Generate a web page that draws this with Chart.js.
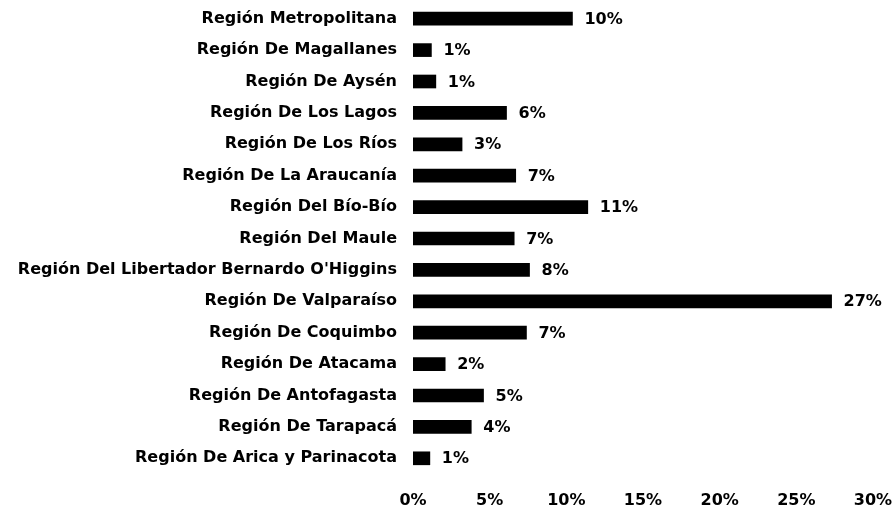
<!DOCTYPE html>
<html>
<head>
<meta charset="utf-8">
<script src="https://cdn.jsdelivr.net/npm/chart.js@4"></script>
<style>
  body { margin: 0; background: #fff; }
  canvas { display: block; }
</style>
</head>
<body>
<canvas id="regionChart" width="892" height="514"></canvas>
<script>
// regions, top to bottom
var regions = [
    'Región Metropolitana',
    'Región De Magallanes',
    'Región De Aysén',
    'Región De Los Lagos',
    'Región De Los Ríos',
    'Región De La Araucanía',
    'Región Del Bío-Bío',
    'Región Del Maule',
    "Región Del Libertador Bernardo O'Higgins",
    'Región De Valparaíso',
    'Región De Coquimbo',
    'Región De Atacama',
    'Región De Antofagasta',
    'Región De Tarapacá',
    'Región De Arica y Parinacota'
];
// share in percent
var shares = [10.4, 1.2, 1.49, 6.1, 3.2, 6.7, 11.4, 6.6, 7.6, 27.3, 7.4, 2.1, 4.6, 3.8, 1.1];
var axisTicks = [0, 5, 10, 15, 20, 25, 30];

var font = 'bold 16px "DejaVu Sans"';

// draws the "10%" labels right of each bar
var valueLabels = {
    id: 'valueLabels',
    afterDatasetsDraw: function (chart) {
        var ctx = chart.ctx;
        var meta = chart.getDatasetMeta(0);
        ctx.save();
        ctx.font = font;
        ctx.fillStyle = '#000';
        ctx.textAlign = 'left';
        ctx.textBaseline = 'middle';
        meta.data.forEach(function (bar, i) {
            ctx.fillText(Math.round(shares[i]) + '%', bar.x + 12, bar.y + 1);
        });
        ctx.restore();
    }
};

var ctx = document.getElementById('regionChart').getContext('2d');
var chart = new Chart(ctx, {
    type: 'bar',
    data: {
        labels: regions,
        datasets: [{
            data: shares,
            backgroundColor: '#000',
            barThickness: 13
        }]
    },
    options: {
        indexAxis: 'y',
        responsive: false,
        animation: false,
        layout: { autoPadding: false, padding: { left: 0, top: 3, bottom: 0, right: 19 } },
        plugins: {
            legend: { display: false },
            tooltip: { enabled: false }
        },
        scales: {
            x: {
                min: 0,
                max: 30,
                afterBuildTicks: function (axis) {
                    axis.ticks = axisTicks.map(function (v) { return { value: v }; });
                },
                afterFit: function (axis) {
                    axis.height = 40;
                    axis.paddingLeft = 0;
                    axis.paddingRight = 0;
                },
                grid: { display: false },
                border: { display: false },
                ticks: {
                    color: '#000',
                    font: { family: 'DejaVu Sans', size: 16, weight: 'bold' },
                    padding: 9,
                    maxRotation: 0,
                    callback: function (v) { return v + '%'; }
                }
            },
            y: {
                afterFit: function (axis) {
                    axis.width = 413;
                    axis.paddingTop = 0;
                    axis.paddingBottom = 0;
                },
                grid: { display: false },
                border: { display: false },
                ticks: {
                    color: '#000',
                    font: { family: 'DejaVu Sans', size: 16, weight: 'bold' },
                    padding: 8
                }
            }
        }
    },
    plugins: [valueLabels]
});
</script>
</body>
</html>
